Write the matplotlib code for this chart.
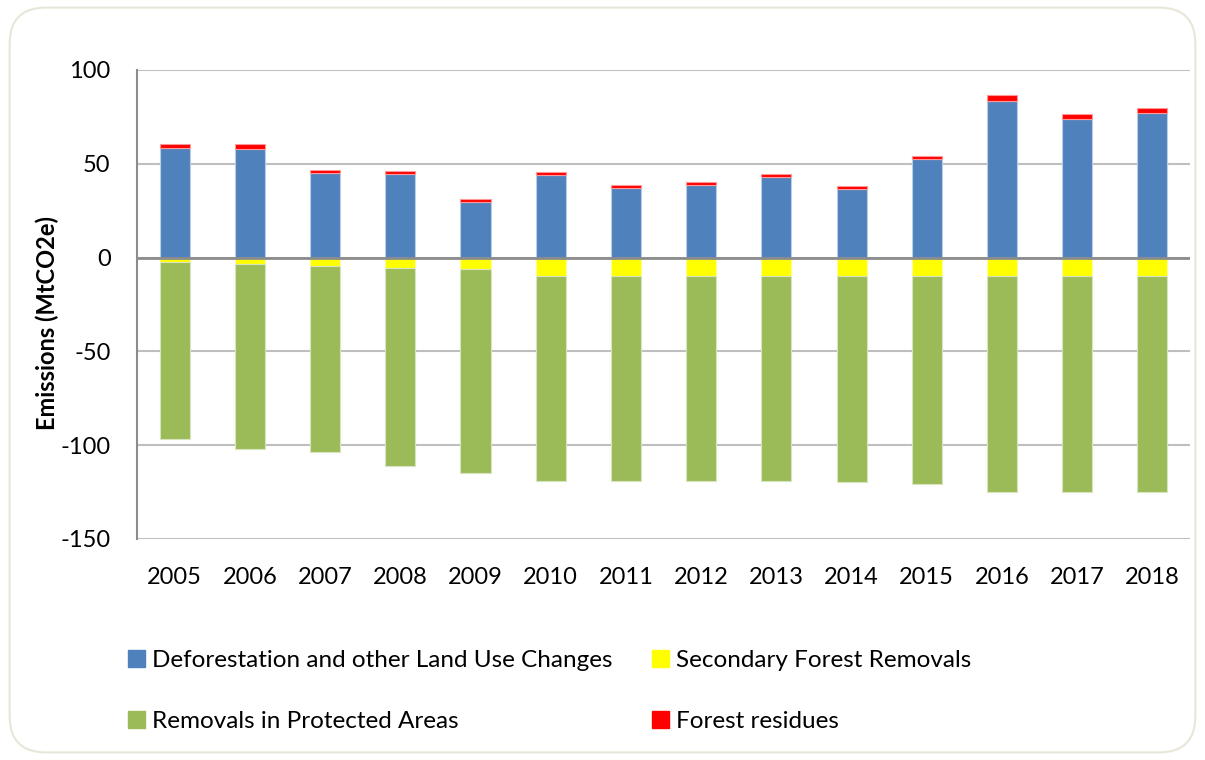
import numpy as np
import matplotlib.pyplot as plt
from matplotlib.patches import FancyBboxPatch, Patch

plt.rcParams['font.family'] = ['Lato', 'DejaVu Sans']
plt.rcParams['axes.unicode_minus'] = False

# Data (MtCO2e)
years = [2005, 2006, 2007, 2008, 2009, 2010, 2011, 2012, 2013, 2014, 2015, 2016, 2017, 2018]
deforestation = [58.4, 57.8, 44.9, 44.4, 29.8, 43.9, 36.9, 38.5, 43.0, 36.7, 52.4, 83.5, 73.9, 77.1]
forest_residues = [2.2, 2.7, 2.0, 1.9, 1.4, 1.7, 1.6, 1.8, 1.6, 1.5, 1.9, 3.0, 2.6, 2.8]
secondary_removals = [-2.4, -3.5, -4.5, -5.5, -6.3, -10.0, -10.0, -10.0, -10.0, -10.0, -10.0, -10.0, -10.0, -10.0]
protected_removals = [-94.3, -98.7, -99.1, -105.8, -108.7, -108.9, -108.9, -108.9, -108.9, -109.8, -110.9, -114.9, -114.9, -114.9]

C_BLUE = "#4F81BD"
C_YELLOW = "#FFFF00"
C_GREEN = "#9BBB59"
C_RED = "#FF0000"

fig = plt.figure(figsize=(12.05, 7.6), dpi=100)

# rounded frame around the whole chart
frame = FancyBboxPatch((0.008, 0.01), 0.984, 0.98, boxstyle="round,pad=0,rounding_size=0.03",
                       transform=fig.transFigure, facecolor="none", edgecolor="#E8E6D8",
                       linewidth=1.5, mutation_aspect=1205 / 760, zorder=-1)
fig.patches.append(frame)

ax = fig.add_axes([0.1137, 0.2908, 0.8739, 0.6171])
ax.set_facecolor("none")
x = np.arange(len(years))
w = 0.4

ax.bar(x, deforestation, w, color=C_BLUE, edgecolor="#B9CDE5", linewidth=0.8, zorder=3)
ax.bar(x, forest_residues, w, bottom=deforestation, color=C_RED, edgecolor="#FF9999", linewidth=0.8, zorder=3)
ax.bar(x, secondary_removals, w, color=C_YELLOW, edgecolor="#FFFF99", linewidth=0.8, zorder=3)
ax.bar(x, protected_removals, w, bottom=secondary_removals, color=C_GREEN, edgecolor="#D7E4BD", linewidth=0.8, zorder=3)

ax.set_xlim(-0.5, len(years) - 0.5)
ax.set_ylim(-150, 100)
ax.set_yticks([-150, -100, -50, 0, 50, 100])
ax.set_xticks(x)
ax.set_xticklabels([str(y) for y in years])
ax.tick_params(axis='both', length=0, labelsize=17, colors="black")
ax.tick_params(axis='y', pad=19)
ax.tick_params(axis='x', pad=20)

ax.grid(axis='y', color="#BFBFBF", linewidth=1.5, zorder=0)
ax.axhline(0, color="#8C8C8C", linewidth=2, zorder=4)
for side in ['top', 'right', 'bottom']:
    ax.spines[side].set_visible(False)
ax.spines['left'].set_color("#8C8C8C")
ax.spines['left'].set_linewidth(1.5)

ax.set_ylabel("Emissions (MtCO2e)", fontsize=17, fontweight='bold')
ax.yaxis.set_label_coords(-0.074, 0.46)

handles = [Patch(color=C_BLUE), Patch(color=C_GREEN), Patch(color=C_YELLOW), Patch(color=C_RED)]
labels = ["Deforestation and other Land Use Changes", "Removals in Protected Areas",
          "Secondary Forest Removals", "Forest residues"]
fig.legend(handles, labels, ncol=2, loc='upper left', bbox_to_anchor=(0.098, 0.158),
           frameon=False, fontsize=17.5, handlelength=0.7, handleheight=0.7,
           handletextpad=0.3, labelspacing=1.65, columnspacing=1.6, borderaxespad=0)

fig.savefig("out.png", dpi=100)
